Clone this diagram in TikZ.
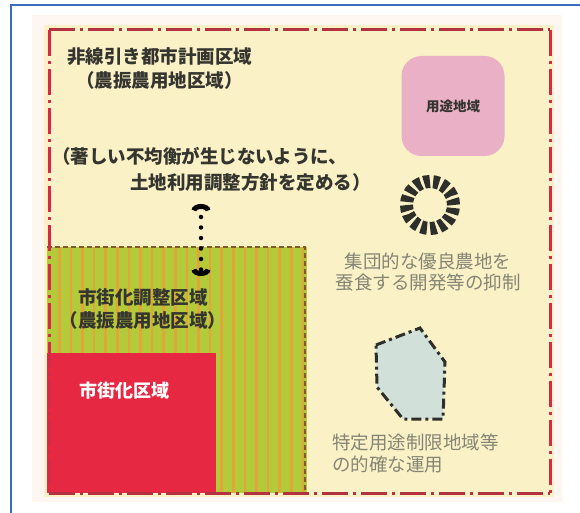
\documentclass[tikz,border=0pt]{standalone}
\usepackage{fontspec}
\newfontfamily\jp{Noto Sans CJK JP}
\usetikzlibrary{arrows.meta}
\definecolor{frameblue}{HTML}{3A6EC0}
\definecolor{halo}{HTML}{FDF6F1}
\definecolor{paleyellow}{HTML}{FBF1C6}
\definecolor{borderred}{HTML}{D62A4A}
\definecolor{borderdark}{HTML}{B2323F}
\definecolor{urbanred}{HTML}{E72843}
\definecolor{stripegreen}{HTML}{B3CA3A}
\definecolor{stripeorange}{HTML}{E2A53A}
\definecolor{brownline}{HTML}{7E5B2C}
\definecolor{pinkbox}{HTML}{E9B0C6}
\definecolor{darktext}{HTML}{353530}
\definecolor{graytext}{HTML}{858575}
\definecolor{polyfill}{HTML}{D2E0DA}
\definecolor{ringcol}{HTML}{2E2E2A}
\tikzset{
  bigtext/.style={font=\jp\bfseries\fontsize{18.5}{20}\selectfont, text=darktext, inner sep=0pt},
  greytext/.style={font=\jp\fontsize{18.5}{20}\selectfont, text=graytext, inner sep=0pt},
  whitetext/.style={font=\jp\bfseries\fontsize{18}{20}\selectfont, text=white, inner sep=0pt},
  smalltext/.style={font=\jp\bfseries\fontsize{13.5}{15}\selectfont, text=darktext},
  pinkzone/.style={fill=pinkbox, rounded corners=20pt, minimum width=103pt, minimum height=100pt},
  ringmark/.style={circle, draw=ringcol, line width=13pt, minimum size=47pt, inner sep=0pt, dash pattern=on 6pt off 3.23pt},
  outerside/.style={draw=borderred, line width=3pt, dash pattern=on 26pt off 5pt on 3pt off 5pt},
  outertopbot/.style={draw=borderdark, line width=3pt, dash pattern=on 26pt off 5pt on 3pt off 5pt},
  polyborder/.style={draw=ringcol, fill=polyfill, line width=3pt, dash pattern=on 10pt off 4pt on 3pt off 4pt},
  dotarrow/.style={draw=black, line width=4.5pt, line cap=round, dash pattern=on 0pt off 10.5pt,
    {Arc Barb[width=19pt,length=6.5pt,line width=5pt]}-{Arc Barb[width=19pt,length=6.5pt,line width=5pt]}},
}
\begin{document}
\begin{tikzpicture}[x=1pt,y=-1pt]
\useasboundingbox (0,0) rectangle (580,513);
\fill[white] (0,0) rectangle (580,513);
\draw[frameblue, line width=2.2pt] (11,513) -- (11,5) -- (580,5);
\fill[halo] (32,15) rectangle (562,502);
\fill[paleyellow] (44,25) rectangle (554,497);
% 市街化調整区域 (striped)
\fill[stripegreen] (47,247) rectangle (307,493);
\begin{scope}
  \clip (47,247) rectangle (305,493);
  \foreach \k in {0,...,21} {
    \fill[stripeorange] ({58+11.6*\k},247) rectangle ({60.5+11.6*\k},493);
  }
\end{scope}
\draw[brownline, line width=2pt, dash pattern=on 5pt off 3pt] (47,247) -- (305,247) -- (305,493);
% 市街化区域
\fill[urbanred] (47,353) rectangle (216,493);
% outer border
\coordinate (bTL) at (49,30);
\coordinate (bTR) at (550,30);
\coordinate (bBR) at (550,493);
\coordinate (bBL) at (49,493);
\draw[outerside] (bTL) -- (bBL);
\draw[outerside] (bTR) -- (bBR);
\draw[outertopbot] (bTL) -- (bTR);
\draw[outertopbot] (bBL) -- (bBR);
% 用途地域
\node[pinkzone] (youto) at (453,106) {};
\node[smalltext] (youtolabel) at (youto.center) {用途地域};
% texts top-left
\node[bigtext, anchor=west] (t1) at (67,57) {非線引き都市計画区域};
\node[bigtext] (t2) at (t1.center |- 0,80) {（農振農用地区域）};
\node[bigtext, anchor=west] (t3) at (52,156) {（著しい不均衡が生じないように、};
\node[bigtext, anchor=east] (t4) at (371,182) {土地利用調整方針を定める）};
% arrow
\coordinate (arrtop) at (201,204);
\coordinate (arrbot) at (201,276);
\draw[dotarrow] (arrtop) -- (arrbot);
% 市街化調整区域 labels
\node[bigtext] (c1) at (143,297) {市街化調整区域};
\node[bigtext] (c2) at (143,320) {（農振農用地区域）};
% 市街化区域 label
\node[whitetext, anchor=west] (u1) at (79,391) {市街化区域};
% ring
\node[ringmark] (ring) at (430,205) {};
\node[greytext] (r1) at (428,261) {集団的な優良農地を};
\node[greytext] (r2) at (428,283) {蚕食する開発等の抑制};
% polygon
\draw[polyborder] (376,345) -- (420,328) -- (445,362) -- (443,419) -- (403,419) -- (377,387) -- cycle;
\node[greytext, anchor=west] (p1) at (332,442) {特定用途制限地域等};
\node[greytext, anchor=west] (p2) at (332,464) {の的確な運用};
\end{tikzpicture}
\end{document}
